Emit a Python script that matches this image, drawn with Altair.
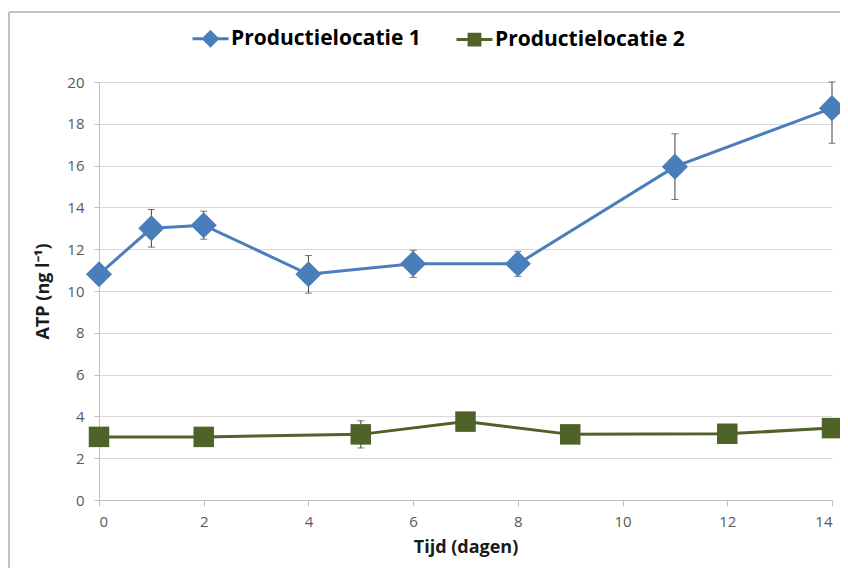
import altair as alt
import pandas as pd

series_names = ["Productielocatie 1", "Productielocatie 2"]
series_colors = ["#4a7ebb", "#4f6228"]

days_1 = [0, 1, 2, 4, 6, 8, 11, 14]
atp_1 = [10.8, 13.0, 13.15, 10.8, 11.3, 11.3, 15.95, 18.75]
err_1 = [0.4, 0.9, 0.67, 0.9, 0.65, 0.6, 1.57, 1.68]

days_2 = [0, 2, 5, 7, 9, 12, 14]
atp_2 = [3.02, 3.02, 3.14, 3.75, 3.14, 3.17, 3.44]
err_2 = [0.3, 0.3, 0.65, 0.3, 0.3, 0.3, 0.3]

x_ticks = [0, 2, 4, 6, 8, 10, 12, 14]
y_ticks = [0, 2, 4, 6, 8, 10, 12, 14, 16, 18, 20]

rows = []
for d, v, e in zip(days_1, atp_1, err_1):
    rows.append({"day": d, "atp": v, "lo": v - e, "hi": v + e, "series": series_names[0]})
for d, v, e in zip(days_2, atp_2, err_2):
    rows.append({"day": d, "atp": v, "lo": v - e, "hi": v + e, "series": series_names[1]})
df = pd.DataFrame(rows)

FONT = "Open Sans"

x_enc = alt.X("day:Q", scale=alt.Scale(domain=[0, 14], nice=False),
              axis=alt.Axis(values=x_ticks, title="Tijd (dagen)", grid=False))
y_enc = alt.Y("atp:Q", scale=alt.Scale(domain=[0, 20], nice=False, clamp=True),
              axis=alt.Axis(values=y_ticks, title="ATP (ng l⁻¹)", grid=True))

base = alt.Chart(df)

frame_src = alt.Chart(pd.DataFrame({"a": [0]}))
frame_top = frame_src.mark_rule(color="#c4c4c4", strokeWidth=2).encode(
    x=alt.value(-90), x2=alt.value(741), y=alt.value(-70), y2=alt.value(-70))
frame_left = frame_src.mark_rule(color="#c4c4c4", strokeWidth=2).encode(
    x=alt.value(-90), x2=alt.value(-90), y=alt.value(-70), y2=alt.value(486))

err_rule = base.mark_rule(color="#404040", strokeWidth=1).encode(
    x=x_enc, y=alt.Y("lo:Q"), y2="hi:Q")
cap_lo = base.mark_tick(color="#404040", orient="horizontal", size=7, thickness=1).encode(
    x="day:Q", y=alt.Y("lo:Q"))
cap_hi = base.mark_tick(color="#404040", orient="horizontal", size=7, thickness=1).encode(
    x="day:Q", y=alt.Y("hi:Q"))

layers = [frame_top, frame_left, err_rule, cap_lo, cap_hi]
shapes = ["diamond", "square"]
sizes = [680, 420]
for name, col, shp, sz in zip(series_names, series_colors, shapes, sizes):
    sub = base.transform_filter(alt.datum.series == name)
    layers.append(sub.mark_line(color=col, strokeWidth=3).encode(x=x_enc, y=y_enc))
    layers.append(sub.mark_point(shape=shp, size=sz, filled=True, opacity=1, color=col).encode(
        x="day:Q", y="atp:Q"))

legend_paths = [
    "M-1,0L1,0M0,-0.38L0.38,0L0,0.38L-0.38,0Z",
    "M-1,0L1,0M-0.3,-0.3L0.3,-0.3L0.3,0.3L-0.3,0.3Z",
]
leg = alt.Legend(
    title=None, orient="none", legendX=92, legendY=-63, direction="horizontal",
    labelFont=FONT, labelFontSize=21, labelFontWeight="bold", labelColor="#000000",
    symbolSize=1296, symbolStrokeWidth=3, labelOffset=1, columnPadding=29, labelLimit=400,
)
legend_layer = base.mark_point(filled=True, opacity=1, strokeWidth=3).encode(
    x="day:Q", y="atp:Q",
    fill=alt.Fill("series:N", scale=alt.Scale(domain=series_names, range=series_colors), legend=leg),
    stroke=alt.Stroke("series:N", scale=alt.Scale(domain=series_names, range=series_colors), legend=leg),
    shape=alt.Shape("series:N", scale=alt.Scale(domain=series_names, range=legend_paths), legend=leg),
).transform_filter("false")
layers.append(legend_layer)

chart = alt.layer(*layers).properties(
    width=733, height=418,
    autosize=alt.AutoSizeParams(type="none"),
    padding={"left": 91, "top": 74, "right": 8, "bottom": 70},
).configure_view(stroke=None).configure_axis(
    labelFont=FONT, labelFontSize=15, labelColor="#595959",
    titleFont=FONT, titleFontSize=18, titleFontWeight="bold", titleColor="#1a1a1a",
    domainColor="#bfbfbf", tickColor="#bfbfbf", gridColor="#d9d9d9", gridWidth=1,
).configure_axisX(
    tickSize=6, labelPadding=8, titlePadding=9,
).configure_axisY(
    tickSize=5, labelPadding=10, titlePadding=14, domain=True,
)

chart.save("out.html", embed_options={"renderer": "svg", "actions": False})
